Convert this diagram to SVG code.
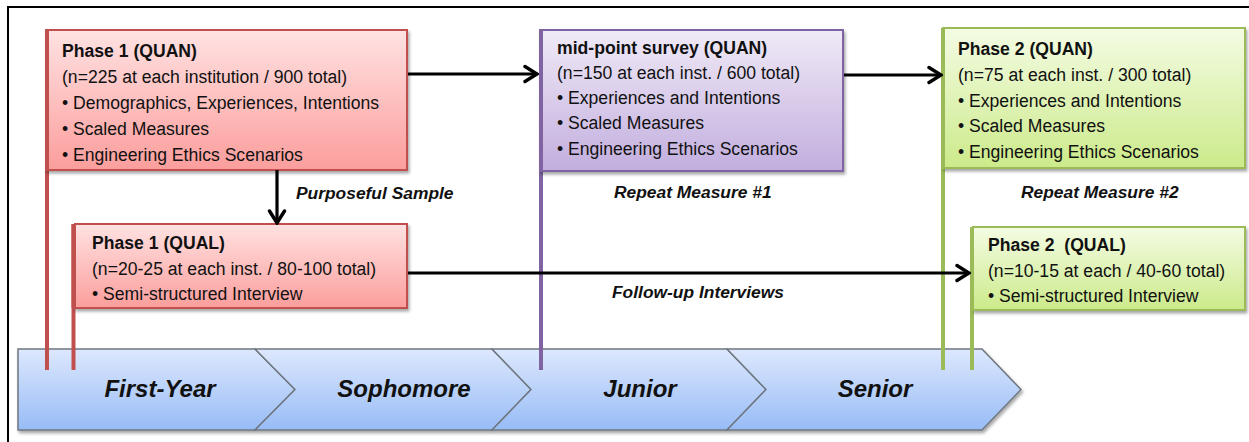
<svg xmlns="http://www.w3.org/2000/svg" width="1249" height="442" viewBox="0 0 1249 442">
<style>
.t{font-family:"Liberation Sans",Arial,sans-serif;font-size:17.6px;fill:#111}
.b{font-weight:bold}
.lbl{font-family:"Liberation Sans",Arial,sans-serif;font-size:17.4px;font-weight:bold;font-style:italic;fill:#111}
.yr{font-family:"Liberation Sans",Arial,sans-serif;font-size:24px;font-weight:bold;font-style:italic;fill:#111;text-anchor:middle}
.conn{stroke:#000;stroke-width:3.2;fill:none}
.red{fill:url(#gRed);stroke:#C0504D;stroke-width:2}
.pur{fill:url(#gPur);stroke:#8064A2;stroke-width:2}
.grn{fill:url(#gGrn);stroke:#9BBB59;stroke-width:2}
.chev{fill:url(#gBlue);stroke:#6f7780;stroke-width:1.5}
</style>
<defs>
<linearGradient id="gRed" x1="0" y1="0" x2="0" y2="1"><stop offset="0" stop-color="#FFE2E2"/><stop offset="1" stop-color="#FB9E9C"/></linearGradient>
<linearGradient id="gPur" x1="0" y1="0" x2="0" y2="1"><stop offset="0" stop-color="#F0EAF7"/><stop offset="1" stop-color="#C2AEDE"/></linearGradient>
<linearGradient id="gGrn" x1="0" y1="0" x2="0" y2="1"><stop offset="0" stop-color="#F4FCE4"/><stop offset="1" stop-color="#CCEA8A"/></linearGradient>
<linearGradient id="gBlue" x1="0" y1="0" x2="0" y2="1"><stop offset="0" stop-color="#DDE8FD"/><stop offset="1" stop-color="#97BCF6"/></linearGradient>
<filter id="sh" x="-5%" y="-5%" width="110%" height="120%"><feDropShadow dx="1.5" dy="2.5" stdDeviation="1.8" flood-color="#000" flood-opacity="0.35"/></filter>
<marker id="arr" markerUnits="userSpaceOnUse" viewBox="-15 -10 17 20" refX="0" refY="0" markerWidth="17" markerHeight="20" orient="auto">
<path d="M-12,-7.5 L0,0 L-12,7.5" fill="none" stroke="#000" stroke-width="3.4" stroke-linecap="round"/>
</marker>
</defs>
<rect x="0" y="0" width="1249" height="442" fill="#fff"/>
<rect x="8" y="7" width="1300" height="500" fill="none" stroke="#000" stroke-width="2"/>

<g id="timeline" filter="url(#sh)">
<g id="year-first"><polygon class="chev" points="18,349 255,349 295,389.5 255,430 18,430"/></g>
<g id="year-sophomore"><polygon class="chev" points="255,349 492,349 531,389.5 492,430 255,430 295,389.5"/></g>
<g id="year-junior"><polygon class="chev" points="492,349 727,349 766,389.5 727,430 492,430 531,389.5"/></g>
<g id="year-senior"><polygon class="chev" points="727,349 982,349 1021,389.5 982,430 727,430 766,389.5"/></g>
</g>
<text class="yr" x="160" y="397">First-Year</text>
<text class="yr" x="404" y="397">Sophomore</text>
<text class="yr" x="640" y="397">Junior</text>
<text class="yr" x="875" y="397">Senior</text>

<g id="stems" stroke-width="4">
<line x1="47" y1="30" x2="47" y2="370" stroke="#C0504D"/>
<line x1="73.5" y1="224" x2="73.5" y2="370" stroke="#C0504D"/>
<line x1="541" y1="30" x2="541" y2="370" stroke="#8064A2"/>
<line x1="943" y1="28" x2="943" y2="370" stroke="#9BBB59"/>
<line x1="972" y1="227" x2="972" y2="370" stroke="#9BBB59"/>
</g>

<g id="phase1-quan">
<rect class="red" x="46" y="30" width="361" height="140" filter="url(#sh)"/>
<line x1="47" y1="30" x2="47" y2="170" stroke="#C0504D" stroke-width="4"/>
<text class="t b" x="62" y="57">Phase 1 (QUAN)</text>
<text class="t" x="62" y="83">(n=225 at each institution / 900 total)</text>
<text class="t" x="62" y="109">• Demographics, Experiences, Intentions</text>
<text class="t" x="62" y="135">• Scaled Measures</text>
<text class="t" x="62" y="161">• Engineering Ethics Scenarios</text>
</g>

<g id="phase1-qual">
<rect class="red" x="75" y="224" width="332" height="84" filter="url(#sh)"/>
<line x1="73.5" y1="224" x2="73.5" y2="308" stroke="#C0504D" stroke-width="4"/>
<text class="t b" x="92" y="249">Phase 1 (QUAL)</text>
<text class="t" x="92" y="274.5">(n=20-25 at each inst. / 80-100 total)</text>
<text class="t" x="92" y="300">• Semi-structured Interview</text>
</g>

<g id="midpoint-quan">
<rect class="pur" x="540" y="30" width="303" height="141" filter="url(#sh)"/>
<line x1="541" y1="30" x2="541" y2="171" stroke="#8064A2" stroke-width="4"/>
<text class="t b" x="557" y="53.5">mid-point survey (QUAN)</text>
<text class="t" x="557" y="78.8">(n=150 at each inst. / 600 total)</text>
<text class="t" x="557" y="104">• Experiences and Intentions</text>
<text class="t" x="557" y="129.3">• Scaled Measures</text>
<text class="t" x="557" y="154.5">• Engineering Ethics Scenarios</text>
</g>

<g id="phase2-quan">
<rect class="grn" x="943" y="28" width="302" height="140" filter="url(#sh)"/>
<line x1="943" y1="28" x2="943" y2="168" stroke="#9BBB59" stroke-width="4"/>
<text class="t b" x="958" y="55">Phase 2 (QUAN)</text>
<text class="t" x="958" y="80.8">(n=75 at each inst. / 300 total)</text>
<text class="t" x="958" y="106.5">• Experiences and Intentions</text>
<text class="t" x="958" y="132.3">• Scaled Measures</text>
<text class="t" x="958" y="158">• Engineering Ethics Scenarios</text>
</g>

<g id="phase2-qual">
<rect class="grn" x="973" y="227" width="272" height="83" filter="url(#sh)"/>
<line x1="972" y1="227" x2="972" y2="310" stroke="#9BBB59" stroke-width="4"/>
<text class="t b" x="988" y="251">Phase 2&#160; (QUAL)</text>
<text class="t" x="988" y="276.5">(n=10-15 at each / 40-60 total)</text>
<text class="t" x="988" y="302">• Semi-structured Interview</text>
</g>

<g id="connectors">
<line class="conn" x1="408" y1="74" x2="537" y2="74" marker-end="url(#arr)"/>
<line class="conn" x1="844" y1="75" x2="941" y2="75" marker-end="url(#arr)"/>
<line class="conn" x1="277" y1="170" x2="277" y2="223" marker-end="url(#arr)"/>
<line class="conn" x1="408" y1="273" x2="969" y2="273" marker-end="url(#arr)"/>
<text class="lbl" x="296" y="199">Purposeful Sample</text>
<text class="lbl" x="614" y="198">Repeat Measure #1</text>
<text class="lbl" x="1021" y="198">Repeat Measure #2</text>
<text class="lbl" x="612" y="298">Follow-up Interviews</text>
</g>
</svg>
